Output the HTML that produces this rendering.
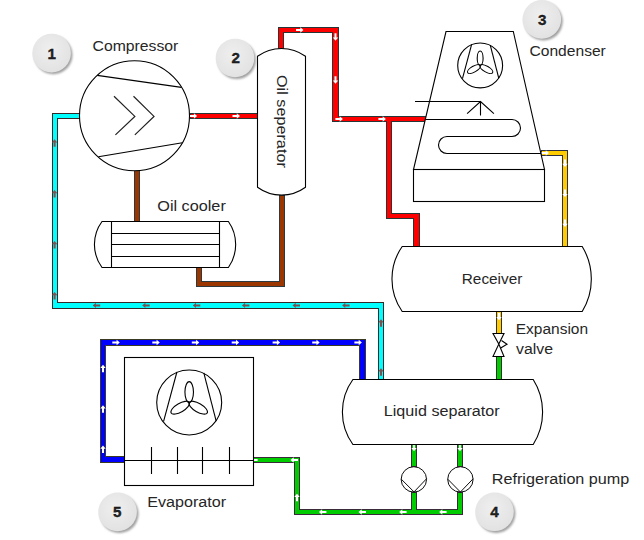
<!DOCTYPE html>
<html><head><meta charset="utf-8">
<style>
html,body{margin:0;padding:0;background:#fff;}
body{width:644px;height:540px;overflow:hidden;}
svg{display:block;}
text{font-family:"Liberation Sans",sans-serif;fill:#262626;}
</style></head><body>
<svg width="644" height="540" viewBox="0 0 644 540">
<defs>
  <filter id="sh" x="-30%" y="-30%" width="160%" height="160%">
    <feGaussianBlur stdDeviation="1.2"/>
  </filter>
  <radialGradient id="bg" cx="45%" cy="40%" r="60%">
    <stop offset="0" stop-color="#efefef"/>
    <stop offset="1" stop-color="#e2e2e2"/>
  </radialGradient>
</defs>

<!-- ============ PIPES ============ -->
<g fill="#352828"><rect x="52" y="113" width="28" height="6"/><rect x="52" y="113" width="6" height="196"/><rect x="52" y="302" width="332" height="7"/><rect x="378" y="302" width="6" height="78"/></g>
<g fill="#00ffff"><rect x="53" y="114" width="26" height="4"/><rect x="53" y="114" width="4" height="194"/><rect x="53" y="303" width="330" height="5"/><rect x="379" y="303" width="4" height="76"/></g>
<g fill="#263535"><rect x="190" y="113" width="68" height="6"/><rect x="278" y="27" width="6" height="22"/><rect x="278" y="27" width="61" height="6"/><rect x="332" y="27" width="7" height="95"/><rect x="332" y="116" width="94" height="6"/><rect x="386" y="116" width="6" height="103"/><rect x="386" y="213" width="34" height="6"/><rect x="413" y="213" width="7" height="34"/></g>
<g fill="#ff0000"><rect x="191" y="114" width="66" height="4"/><rect x="279" y="28" width="4" height="20"/><rect x="279" y="28" width="59" height="4"/><rect x="333" y="28" width="5" height="93"/><rect x="333" y="117" width="92" height="4"/><rect x="387" y="117" width="4" height="101"/><rect x="387" y="214" width="32" height="4"/><rect x="414" y="214" width="5" height="32"/></g>
<g fill="#2c3a40"><rect x="134" y="170" width="6" height="52"/><rect x="196" y="267" width="6" height="20"/><rect x="196" y="281" width="89" height="6"/><rect x="279" y="195" width="6" height="92"/></g>
<g fill="#9c3600"><rect x="135" y="171" width="4" height="50"/><rect x="197" y="268" width="4" height="18"/><rect x="197" y="282" width="87" height="4"/><rect x="280" y="196" width="4" height="90"/></g>
<g fill="#2e3040"><rect x="541" y="150" width="27" height="6"/><rect x="562" y="150" width="6" height="97"/><rect x="496" y="311" width="6" height="23"/></g>
<g fill="#ffcc00"><rect x="542" y="151" width="25" height="4"/><rect x="563" y="151" width="4" height="95"/><rect x="497" y="312" width="4" height="21"/></g>
<g fill="#3a2a3a"><rect x="496" y="356" width="6" height="24"/><rect x="411" y="444" width="6" height="23"/><rect x="457" y="444" width="6" height="23"/><rect x="411" y="492" width="6" height="23"/><rect x="457" y="492" width="6" height="23"/><rect x="294" y="509" width="169" height="6"/><rect x="294" y="457" width="6" height="58"/><rect x="253" y="457" width="47" height="6"/></g>
<g fill="#00cc00"><rect x="497" y="357" width="4" height="22"/><rect x="412" y="445" width="4" height="21"/><rect x="458" y="445" width="4" height="21"/><rect x="412" y="493" width="4" height="21"/><rect x="458" y="493" width="4" height="21"/><rect x="295" y="510" width="167" height="4"/><rect x="295" y="458" width="4" height="56"/><rect x="254" y="458" width="45" height="4"/></g>
<g fill="#3a3a22"><rect x="100" y="456" width="25" height="7"/><rect x="100" y="339" width="6" height="124"/><rect x="100" y="339" width="266" height="7"/><rect x="359" y="339" width="7" height="41"/></g>
<g fill="#0000ff"><rect x="101" y="457" width="23" height="5"/><rect x="101" y="340" width="4" height="122"/><rect x="101" y="340" width="264" height="5"/><rect x="360" y="340" width="5" height="39"/></g>

<!-- ============ ARROWS ============ -->
<g fill="#fff">
  <path d="M-3.8,-1 H0.5 V-2.7 L3.7,0 L0.5,2.7 V1 H-3.8 Z" transform="translate(193.4,116)"/>
  <path d="M-3.8,-1 H0.5 V-2.7 L3.7,0 L0.5,2.7 V1 H-3.8 Z" transform="translate(236.3,116)"/>
  <path d="M-3.8,-1 H0.5 V-2.7 L3.7,0 L0.5,2.7 V1 H-3.8 Z" transform="translate(299.8,30)"/>
  <path d="M-3.8,-1 H0.5 V-2.7 L3.7,0 L0.5,2.7 V1 H-3.8 Z" transform="translate(335.5,37) rotate(90)"/>
  <path d="M-3.8,-1 H0.5 V-2.7 L3.7,0 L0.5,2.7 V1 H-3.8 Z" transform="translate(335.5,80.1) rotate(90)"/>
  <path d="M-3.8,-1 H0.5 V-2.7 L3.7,0 L0.5,2.7 V1 H-3.8 Z" transform="translate(339.2,119)"/>
  <path d="M-3.8,-1 H0.5 V-2.7 L3.7,0 L0.5,2.7 V1 H-3.8 Z" transform="translate(382.2,119)"/>
  <path d="M-3.8,-1 H0.5 V-2.7 L3.7,0 L0.5,2.7 V1 H-3.8 Z" transform="translate(545.3,153)"/>
  <path d="M-3.8,-1 H0.5 V-2.7 L3.7,0 L0.5,2.7 V1 H-3.8 Z" transform="translate(565,163.2) rotate(90)"/>
  <path d="M-3.8,-1 H0.5 V-2.7 L3.7,0 L0.5,2.7 V1 H-3.8 Z" transform="translate(565,193.4) rotate(90)"/>
  <path d="M-3.8,-1 H0.5 V-2.7 L3.7,0 L0.5,2.7 V1 H-3.8 Z" transform="translate(565,223.2) rotate(90)"/>
  <path d="M-3.8,-1 H0.5 V-2.7 L3.7,0 L0.5,2.7 V1 H-3.8 Z" transform="translate(499,316.5) rotate(90)"/>
  <path d="M-3.8,-1 H0.5 V-2.7 L3.7,0 L0.5,2.7 V1 H-3.8 Z" transform="translate(414,447.5) rotate(90)"/>
  <path d="M-3.8,-1 H0.5 V-2.7 L3.7,0 L0.5,2.7 V1 H-3.8 Z" transform="translate(460,447.5) rotate(90)"/>
  <path d="M-3.8,-1 H0.5 V-2.7 L3.7,0 L0.5,2.7 V1 H-3.8 Z" transform="translate(322.6,512) rotate(180)"/>
  <path d="M-3.8,-1 H0.5 V-2.7 L3.7,0 L0.5,2.7 V1 H-3.8 Z" transform="translate(362.2,512) rotate(180)"/>
  <path d="M-3.8,-1 H0.5 V-2.7 L3.7,0 L0.5,2.7 V1 H-3.8 Z" transform="translate(402.8,512) rotate(180)"/>
  <path d="M-3.8,-1 H0.5 V-2.7 L3.7,0 L0.5,2.7 V1 H-3.8 Z" transform="translate(442.8,512) rotate(180)"/>
  <path d="M-3.8,-1 H0.5 V-2.7 L3.7,0 L0.5,2.7 V1 H-3.8 Z" transform="translate(297,497.5) rotate(-90)"/>
  <path d="M-3.8,-1 H0.5 V-2.7 L3.7,0 L0.5,2.7 V1 H-3.8 Z" transform="translate(294.2,460) rotate(180)"/>
  <path d="M-3.8,-1 H0.5 V-2.7 L3.7,0 L0.5,2.7 V1 H-3.8 Z" transform="translate(253.8,460) rotate(180)"/>
  <path d="M-3.8,-1 H0.5 V-2.7 L3.7,0 L0.5,2.7 V1 H-3.8 Z" transform="translate(103,368.4) rotate(-90)"/>
  <path d="M-3.8,-1 H0.5 V-2.7 L3.7,0 L0.5,2.7 V1 H-3.8 Z" transform="translate(103,409) rotate(-90)"/>
  <path d="M-3.8,-1 H0.5 V-2.7 L3.7,0 L0.5,2.7 V1 H-3.8 Z" transform="translate(103,449.2) rotate(-90)"/>
  <path d="M-3.8,-1 H0.5 V-2.7 L3.7,0 L0.5,2.7 V1 H-3.8 Z" transform="translate(116.1,342.5)"/>
  <path d="M-3.8,-1 H0.5 V-2.7 L3.7,0 L0.5,2.7 V1 H-3.8 Z" transform="translate(156.1,342.5)"/>
  <path d="M-3.8,-1 H0.5 V-2.7 L3.7,0 L0.5,2.7 V1 H-3.8 Z" transform="translate(195.6,342.5)"/>
  <path d="M-3.8,-1 H0.5 V-2.7 L3.7,0 L0.5,2.7 V1 H-3.8 Z" transform="translate(235.5,342.5)"/>
  <path d="M-3.8,-1 H0.5 V-2.7 L3.7,0 L0.5,2.7 V1 H-3.8 Z" transform="translate(276.4,342.5)"/>
  <path d="M-3.8,-1 H0.5 V-2.7 L3.7,0 L0.5,2.7 V1 H-3.8 Z" transform="translate(316,342.5)"/>
  <path d="M-3.8,-1 H0.5 V-2.7 L3.7,0 L0.5,2.7 V1 H-3.8 Z" transform="translate(358.2,342.5)"/>
</g>
<g fill="#765454">
  <path d="M-3.8,-1 H0.5 V-2.7 L3.7,0 L0.5,2.7 V1 H-3.8 Z" transform="translate(54.6,142.9) rotate(-90)"/>
  <path d="M-3.8,-1 H0.5 V-2.7 L3.7,0 L0.5,2.7 V1 H-3.8 Z" transform="translate(54.6,193.7) rotate(-90)"/>
  <path d="M-3.8,-1 H0.5 V-2.7 L3.7,0 L0.5,2.7 V1 H-3.8 Z" transform="translate(54.6,244.7) rotate(-90)"/>
  <path d="M-3.8,-1 H0.5 V-2.7 L3.7,0 L0.5,2.7 V1 H-3.8 Z" transform="translate(54.6,295.8) rotate(-90)"/>
  <path d="M-3.8,-1 H0.5 V-2.7 L3.7,0 L0.5,2.7 V1 H-3.8 Z" transform="translate(96.4,305.4) rotate(180)"/>
  <path d="M-3.8,-1 H0.5 V-2.7 L3.7,0 L0.5,2.7 V1 H-3.8 Z" transform="translate(145.9,305.4) rotate(180)"/>
  <path d="M-3.8,-1 H0.5 V-2.7 L3.7,0 L0.5,2.7 V1 H-3.8 Z" transform="translate(196.5,305.4) rotate(180)"/>
  <path d="M-3.8,-1 H0.5 V-2.7 L3.7,0 L0.5,2.7 V1 H-3.8 Z" transform="translate(245.6,305.4) rotate(180)"/>
  <path d="M-3.8,-1 H0.5 V-2.7 L3.7,0 L0.5,2.7 V1 H-3.8 Z" transform="translate(296.2,305.4) rotate(180)"/>
  <path d="M-3.8,-1 H0.5 V-2.7 L3.7,0 L0.5,2.7 V1 H-3.8 Z" transform="translate(345.8,305.4) rotate(180)"/>
  <path d="M-3.8,-1 H0.5 V-2.7 L3.7,0 L0.5,2.7 V1 H-3.8 Z" transform="translate(381,323) rotate(-90)"/>
  <path d="M-3.8,-1 H0.5 V-2.7 L3.7,0 L0.5,2.7 V1 H-3.8 Z" transform="translate(381,372) rotate(-90)"/>
</g>

<!-- ============ COMPONENTS ============ -->
<g fill="#fff" stroke="#000" stroke-width="1.1">
  <!-- compressor -->
  <circle cx="134.5" cy="115.8" r="55"/>
  <line x1="97.2" y1="75.4" x2="181.5" y2="87.4"/>
  <line x1="98.4" y1="156.8" x2="182.4" y2="142.8"/>
  <polyline fill="none" stroke="#222" stroke-width="1.2" points="114,96.3 134.85,116.4 115.4,134.9"/>
  <polyline fill="none" stroke="#222" stroke-width="1.2" points="133.5,96.3 154,116.4 134.85,134.9"/>
  <!-- oil separator -->
  <path d="M257.5,187.3 V56.3 A40.6,40.6 0 0 1 305.5,56.3 V187.3 A40.6,40.6 0 0 1 257.5,187.3 Z"/>
  <!-- oil cooler -->
  <path d="M102,221.5 H228.4 A40,40 0 0 1 228.4,267.5 H102 A38.7,38.7 0 0 1 102,221.5 Z"/>
  <path fill="none" d="M111.5,221.5 V267.5 M219.5,221.5 V267.5 M111.5,233.5 H219.5 M111.5,244.5 H219.5 M111.5,256.5 H219.5"/>
  <!-- condenser -->
  <path d="M446,31.5 H513.3 L544.5,169.5 H413.5 Z"/>
  <rect x="413.5" y="169.5" width="131" height="32"/>
  <g transform="translate(480.15,65.45)" fill="none"><circle cx="0" cy="0" r="22.45"/>
    <line x1="-8.5" y1="-21.07" x2="-17.7" y2="13.1"/>
    <line x1="10.1" y1="-20.4" x2="18.6" y2="12.65"/>
    <ellipse cx="0" cy="-7.2" rx="2.95" ry="7.2"/>
    <ellipse cx="0" cy="-7.2" rx="2.95" ry="7.2" transform="rotate(120)"/>
    <ellipse cx="0" cy="-7.2" rx="2.95" ry="7.2" transform="rotate(240)"/></g>
  <path fill="none" d="M415,101.5 H480.5 V115.6 M467.1,113.6 L480.5,101.5 L493.9,113.6"/>
  <path fill="none" d="M425.4,119.5 H512 A8.5,8.5 0 0 1 512,136.5 H447 A8.5,8.5 0 0 0 447,153.5 H541"/>
  <!-- receiver -->
  <path d="M402.2,246.5 H582.2 A62.4,62.4 0 0 1 582.2,311.5 H402.2 A56.7,56.7 0 0 1 402.2,246.5 Z"/>
  <!-- expansion valve -->
  <path d="M493,333.5 H504 L498.8,344 Z M498.8,344 L504,356.5 H493 Z"/>
  <polyline fill="none" points="501.5,340.5 507,344.3 500.7,348"/>
  <!-- liquid separator -->
  <path d="M352.9,379.5 H533.2 A60.9,60.9 0 0 1 533.2,444.5 H352.9 A55.5,55.5 0 0 1 352.9,379.5 Z"/>
  <!-- pumps -->
  <circle cx="413.85" cy="479.4" r="12.7" stroke-width="0.95"/>
  <polyline fill="none" stroke-width="0.95" points="401.2,479.1 414,491.9 426.5,478.8"/>
  <circle cx="460.4" cy="479.4" r="12.7" stroke-width="0.95"/>
  <polyline fill="none" stroke-width="0.95" points="447.7,479.1 460.4,492 473.1,478.8"/>
  <!-- evaporator -->
  <rect x="124.5" y="357.5" width="129" height="128"/>
  <g transform="translate(189.2,402.5) scale(1.447)" fill="none" stroke-width="0.76"><circle cx="0" cy="0" r="22.45"/>
    <line x1="-8.5" y1="-21.07" x2="-17.7" y2="13.1"/>
    <line x1="10.1" y1="-20.4" x2="18.6" y2="12.65"/>
    <ellipse cx="0" cy="-7.2" rx="2.95" ry="7.2"/>
    <ellipse cx="0" cy="-7.2" rx="2.95" ry="7.2" transform="rotate(120)"/>
    <ellipse cx="0" cy="-7.2" rx="2.95" ry="7.2" transform="rotate(240)"/></g>
  <path fill="none" d="M124.5,460.5 H253.5 M151.5,447 V474 M177.5,447 V474 M202.5,447 V474 M229.5,447 V474"/>
</g>

<!-- ============ BADGES ============ -->
<g>
  <g transform="translate(51.6,53.1)"><circle cx="1.7" cy="1.9" r="19.2" fill="#a0a0a0" filter="url(#sh)"/><circle r="19.3" fill="url(#bg)"/><text y="5.4" text-anchor="middle" font-size="15.2" font-weight="bold" stroke="#000" stroke-width="0.3" fill="#000">1</text></g>
  <g transform="translate(235,58)"><circle cx="1.7" cy="1.9" r="19.2" fill="#a0a0a0" filter="url(#sh)"/><circle r="19.3" fill="url(#bg)"/><text x="0.7" y="5.2" text-anchor="middle" font-size="15.2" font-weight="bold" stroke="#000" stroke-width="0.3" fill="#000">2</text></g>
  <g transform="translate(541.8,19.4)"><circle cx="1.7" cy="1.9" r="19.2" fill="#a0a0a0" filter="url(#sh)"/><circle r="19.3" fill="url(#bg)"/><text x="0.3" y="5.2" text-anchor="middle" font-size="15.2" font-weight="bold" stroke="#000" stroke-width="0.3" fill="#000">3</text></g>
  <g transform="translate(494.5,511.8)"><circle cx="1.7" cy="1.9" r="19.2" fill="#a0a0a0" filter="url(#sh)"/><circle r="19.3" fill="url(#bg)"/><text y="5.4" text-anchor="middle" font-size="15.2" font-weight="bold" stroke="#000" stroke-width="0.3" fill="#000">4</text></g>
  <g transform="translate(117.6,511.9)"><circle cx="1.7" cy="1.9" r="19.2" fill="#a0a0a0" filter="url(#sh)"/><circle r="19.3" fill="url(#bg)"/><text x="-0.3" y="5.4" text-anchor="middle" font-size="15.2" font-weight="bold" stroke="#000" stroke-width="0.3" fill="#000">5</text></g>
</g>

<!-- ============ LABELS ============ -->
<g font-size="15.4">
  <text x="92.5" y="50.8" textLength="85.8" lengthAdjust="spacingAndGlyphs">Compressor</text>
  <text x="529.5" y="55.9" textLength="76.3" lengthAdjust="spacingAndGlyphs">Condenser</text>
  <text x="157.3" y="210.9" textLength="68.5" lengthAdjust="spacingAndGlyphs">Oil cooler</text>
  <text x="461.8" y="283.9" textLength="60.5" lengthAdjust="spacingAndGlyphs">Receiver</text>
  <text x="515.8" y="333.9" textLength="72.3" lengthAdjust="spacingAndGlyphs">Expansion</text>
  <text x="516" y="353.7" textLength="37" lengthAdjust="spacingAndGlyphs">valve</text>
  <text x="383.8" y="416.2" textLength="115.8" lengthAdjust="spacingAndGlyphs">Liquid separator</text>
  <text x="147.2" y="506.9" textLength="78.9" lengthAdjust="spacingAndGlyphs">Evaporator</text>
  <text x="491.8" y="484.2" textLength="137.5" lengthAdjust="spacingAndGlyphs">Refrigeration pump</text>
  <text transform="translate(276.8,75) rotate(90)" x="0" y="0" textLength="92.8" lengthAdjust="spacingAndGlyphs">Oil seperator</text>
</g>
</svg>
</body></html>
